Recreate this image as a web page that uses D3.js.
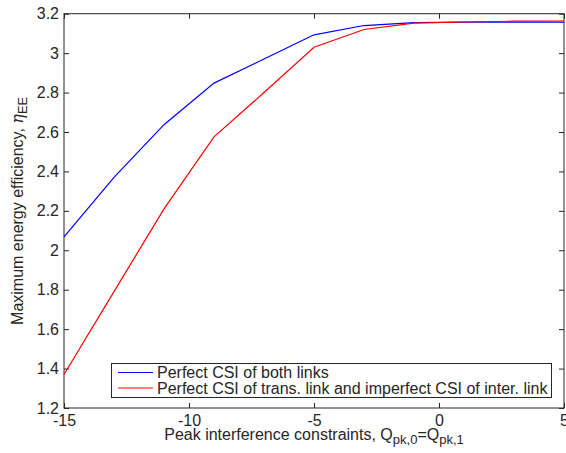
<!DOCTYPE html>
<html><head><meta charset="utf-8">
<script src="https://cdn.jsdelivr.net/npm/d3@7"></script>
<style>body{margin:0;background:#fff}text{font-family:"Liberation Sans",Arial,sans-serif;fill:#262626}</style>
</head><body>
<script>
const xValues = [-15,-13,-11,-9,-7,-5,-3,-1,1,3,5];
const seriesPerfect = [2.068,2.37,2.637,2.848,2.97,3.093,3.14,3.155,3.157,3.157,3.157];
const seriesImperfect = [1.37,1.79,2.21,2.575,2.80,3.03,3.12,3.152,3.158,3.162,3.163];
const xTicks = [-15,-10,-5,0,5];
const yTicks = [1.2,1.4,1.6,1.8,2,2.2,2.4,2.6,2.8,3,3.2];
const legendLabels = ["Perfect CSI of both links","Perfect CSI of trans. link and imperfect CSI of inter. link"];
const colors = ["#0000ff","#ff0000"];

const W=566,H=453, L=64, R=564, T=13.7, B=408, FS=16;
const svg=d3.select("body").append("svg").attr("width",W).attr("height",H);
const x=d3.scaleLinear().domain([-15,5]).range([L,R]);
const y=d3.scaleLinear().domain([1.2,3.2]).range([B,T]);

const fmt=d=>String(d);
const ax=(g,axis)=>{g.call(axis);g.select(".domain").remove();g.selectAll("line").attr("stroke","#262626");g.selectAll("text").attr("font-size",FS).attr("fill","#262626");};
svg.append("g").attr("transform",`translate(0,${B})`).call(g=>ax(g,d3.axisBottom(x).tickValues(xTicks).tickFormat(fmt).tickSizeInner(-5).tickSizeOuter(0).tickPadding(7)));
svg.append("g").attr("transform",`translate(0,${T})`).call(g=>{ax(g,d3.axisTop(x).tickValues(xTicks).tickSizeInner(-5).tickSizeOuter(0));g.selectAll("text").remove();});
svg.append("g").attr("transform",`translate(${L},0)`).call(g=>ax(g,d3.axisLeft(y).tickValues(yTicks).tickFormat(fmt).tickSizeInner(-5).tickSizeOuter(0).tickPadding(5)));
svg.append("g").attr("transform",`translate(${R},0)`).call(g=>{ax(g,d3.axisRight(y).tickValues(yTicks).tickSizeInner(-5).tickSizeOuter(0));g.selectAll("text").remove();});
svg.append("rect").attr("x",L).attr("y",T).attr("width",R-L).attr("height",B-T).attr("fill","none").attr("stroke","#262626").attr("stroke-width",1);

const line=d3.line().x((d,i)=>x(xValues[i])).y(d=>y(d));
[seriesPerfect,seriesImperfect].forEach((s,k)=>{
  svg.append("path").datum(s).attr("d",line).attr("fill","none").attr("stroke",colors[k]).attr("stroke-width",1.2);
});

// legend
const lg=svg.append("g");
lg.append("rect").attr("x",111.5).attr("y",363.5).attr("width",440).attr("height",34).attr("fill","#fff").attr("stroke","#262626");
legendLabels.forEach((t,i)=>{
  const yy=372.5+i*15.5;
  lg.append("line").attr("x1",118).attr("x2",153).attr("y1",yy).attr("y2",yy).attr("stroke",colors[i]).attr("stroke-width",1.2);
  lg.append("text").attr("x",157).attr("y",yy+5.5).attr("font-size",FS).text(t);
});

// x label
const xl=svg.append("text").attr("x",(L+R)/2).attr("y",440).attr("text-anchor","middle").attr("font-size",FS);
xl.append("tspan").text("Peak interference constraints, Q");
xl.append("tspan").attr("dy",4).attr("font-size",13).text("pk,0");
xl.append("tspan").attr("dy",-4).text("=Q");
xl.append("tspan").attr("dy",4).attr("font-size",13).text("pk,1");

// y label
const yl=svg.append("text").attr("transform",`translate(23,${(T+B)/2}) rotate(-90)`).attr("text-anchor","middle").attr("font-size",FS);
yl.append("tspan").text("Maximum energy efficiency, ");
yl.append("tspan").attr("font-family","DejaVu Serif").attr("font-style","italic").text("η");
yl.append("tspan").attr("dy",4).attr("font-size",13).text("EE");
</script>
</body></html>
